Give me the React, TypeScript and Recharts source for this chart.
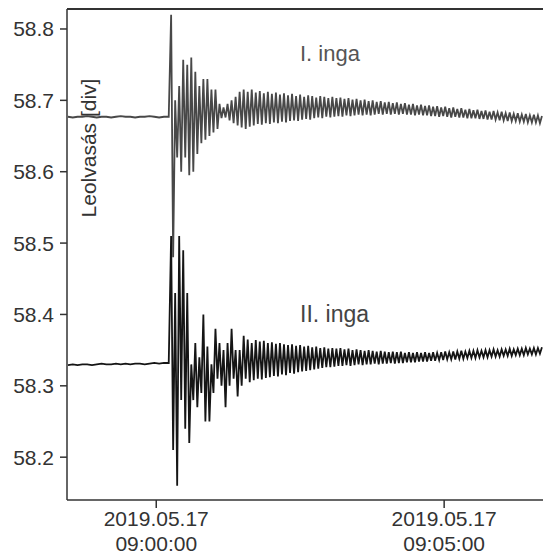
import React from 'react';
import { LineChart, Line, XAxis, YAxis, ReferenceLine, Customized } from 'recharts';

// seconds relative to 2019.05.17 09:00:00
const xDomain = [-93, 403];
const yDomain = [58.14, 58.828];
const yTicks = [58.2, 58.3, 58.4, 58.5, 58.6, 58.7, 58.8];
const xTicks = [0, 300];
const xTickDate = '2019.05.17';
const xTickTimes = ['09:00:00', '09:05:00'];

// quiet part before the quake, sampled every 5 s from -92 s
const quietStart = -92;
const quietStep = 5;
const quietI = [
  58.677, 58.676, 58.677, 58.677, 58.678, 58.677, 58.676, 58.677, 58.677, 58.676, 58.677,
  58.678, 58.677, 58.677, 58.676, 58.677, 58.677, 58.678, 58.677, 58.676, 58.677, 58.677,
];
const quietII = [
  58.329, 58.33, 58.329, 58.33, 58.33, 58.329, 58.33, 58.331, 58.33, 58.33, 58.331,
  58.33, 58.331, 58.33, 58.331, 58.331, 58.33, 58.331, 58.332, 58.331, 58.332, 58.332,
];

// swinging part, one value per half swing (2.1 s) from 15.5 s
const swingStart = 15.5;
const swingStep = 2.1;
const swingI = [
  58.82, 58.48, 58.70, 58.62, 58.72, 58.60, 58.757, 58.62, 58.75, 58.595,
  58.76, 58.60, 58.74, 58.625, 58.72, 58.64, 58.73, 58.645, 58.73, 58.65,
  58.715, 58.655, 58.715, 58.66, 58.695, 58.675, 58.69, 58.676, 58.695, 58.672,
  58.70, 58.668, 58.705, 58.665, 58.712, 58.662, 58.715, 58.66, 58.712, 58.663,
  58.715, 58.665, 58.711, 58.667, 58.713, 58.666, 58.710, 58.668, 58.712, 58.667,
  58.709, 58.669, 58.711, 58.668, 58.708, 58.670, 58.710, 58.669, 58.707, 58.671,
  58.709, 58.672, 58.706, 58.671, 58.708, 58.673, 58.705, 58.674, 58.707, 58.673,
  58.706, 58.675, 58.704, 58.676, 58.706, 58.675, 58.705, 58.677, 58.703, 58.676,
  58.705, 58.677, 58.703, 58.678, 58.704, 58.677, 58.702, 58.679, 58.703, 58.678,
  58.701, 58.679, 58.702, 58.680, 58.700, 58.679, 58.701, 58.680, 58.699, 58.679,
  58.700, 58.680, 58.698, 58.681, 58.699, 58.680, 58.697, 58.681, 58.698, 58.680,
  58.696, 58.681, 58.697, 58.680, 58.695, 58.681, 58.696, 58.680, 58.694, 58.680,
  58.695, 58.679, 58.693, 58.680, 58.694, 58.679, 58.692, 58.679, 58.693, 58.678,
  58.691, 58.678, 58.692, 58.677, 58.690, 58.678, 58.691, 58.677, 58.689, 58.676,
  58.690, 58.677, 58.688, 58.676, 58.689, 58.676, 58.687, 58.675, 58.688, 58.675,
  58.686, 58.675, 58.687, 58.674, 58.685, 58.674, 58.686, 58.673, 58.684, 58.673,
  58.685, 58.673, 58.683, 58.672, 58.684, 58.672, 58.682, 58.671, 58.683, 58.671,
  58.681, 58.671, 58.682, 58.670, 58.680, 58.670, 58.681, 58.669, 58.679, 58.669,
  58.680, 58.669, 58.679, 58.668, 58.678,
];
const swingII = [
  58.51, 58.21, 58.43, 58.16, 58.51, 58.28, 58.49, 58.24, 58.43, 58.22,
  58.33, 58.28, 58.36, 58.27, 58.34, 58.29, 58.40, 58.25, 58.355, 58.25,
  58.33, 58.29, 58.38, 58.31, 58.36, 58.30, 58.35, 58.27, 58.36, 58.30,
  58.38, 58.31, 58.35, 58.285, 58.35, 58.30, 58.37, 58.31, 58.365, 58.305,
  58.36, 58.308, 58.364, 58.310, 58.362, 58.309, 58.363, 58.311, 58.360, 58.312,
  58.361, 58.314, 58.359, 58.313, 58.360, 58.316, 58.358, 58.315, 58.357, 58.318,
  58.358, 58.317, 58.356, 58.319, 58.357, 58.320, 58.355, 58.321, 58.356, 58.322,
  58.354, 58.323, 58.355, 58.324, 58.353, 58.325, 58.354, 58.326, 58.352, 58.326,
  58.353, 58.327, 58.352, 58.328, 58.353, 58.328, 58.351, 58.329, 58.352, 58.328,
  58.350, 58.329, 58.351, 58.330, 58.350, 58.329, 58.349, 58.330, 58.350, 58.330,
  58.349, 58.331, 58.348, 58.330, 58.349, 58.331, 58.348, 58.331, 58.347, 58.332,
  58.348, 58.331, 58.347, 58.332, 58.348, 58.332, 58.346, 58.333, 58.347, 58.333,
  58.346, 58.333, 58.347, 58.334, 58.346, 58.334, 58.347, 58.334, 58.346, 58.335,
  58.347, 58.335, 58.346, 58.336, 58.347, 58.336, 58.348, 58.337, 58.347, 58.337,
  58.348, 58.337, 58.348, 58.338, 58.349, 58.338, 58.348, 58.339, 58.349, 58.339,
  58.349, 58.339, 58.350, 58.340, 58.349, 58.340, 58.350, 58.340, 58.350, 58.341,
  58.351, 58.341, 58.350, 58.341, 58.351, 58.342, 58.351, 58.342, 58.352, 58.342,
  58.351, 58.343, 58.352, 58.343, 58.352, 58.343, 58.353, 58.344, 58.352, 58.344,
  58.353, 58.344, 58.353, 58.345, 58.354,
];

const rows = [
  ...quietI.map((v, i) => ({ t: quietStart + i * quietStep, a: v, b: quietII[i] })),
  ...swingI.map((v, i) => ({ t: swingStart + i * swingStep, a: v, b: swingII[i] })),
];

const font = '"Liberation Sans", Arial, sans-serif';

const TimeTick = (props: any) => {
  const { x, y, payload } = props;
  const i = xTicks.indexOf(payload.value);
  return (
    <text x={x} y={y} textAnchor="middle" fill="#333" fontSize={21} fontFamily={font}>
      <tspan x={x} dy={16}>{xTickDate}</tspan>
      <tspan x={x} dy={25}>{xTickTimes[i]}</tspan>
    </text>
  );
};

const Notes = () => (
  <g fontFamily={font}>
    <text x={300} y={61} fontSize={22} fill="#555">I. inga</text>
    <text x={300} y={322} fontSize={23} fill="#444">II. inga</text>
    <text
      x={88}
      y={148}
      fontSize={21}
      fill="#333"
      textAnchor="middle"
      dominantBaseline="central"
      transform="rotate(-90 88 148)"
    >
      Leolvasás [div]
    </text>
  </g>
);

export default function App() {
  return (
    <div style={{ position: 'absolute', left: 0, top: 0, width: 543, height: 555, background: '#fff' }}>
      <LineChart width={543} height={555} data={rows} margin={{ top: 9, right: 0, bottom: 0, left: 7 }}>
        <XAxis
          dataKey="t"
          type="number"
          domain={xDomain}
          ticks={xTicks}
          allowDataOverflow
          height={55}
          tickSize={8}
          tick={<TimeTick />}
          axisLine={{ stroke: '#333', strokeWidth: 1.5 }}
          tickLine={{ stroke: '#333', strokeWidth: 1.5 }}
        />
        <YAxis
          type="number"
          domain={yDomain}
          ticks={yTicks}
          allowDataOverflow
          width={60}
          tickSize={7}
          tickMargin={6}
          tickFormatter={(v: number) => v.toFixed(1)}
          tick={{ fill: '#333', fontSize: 21, fontFamily: font }}
          axisLine={{ stroke: '#333', strokeWidth: 1.5 }}
          tickLine={{ stroke: '#333', strokeWidth: 1.5 }}
        />
        <ReferenceLine y={yDomain[1]} stroke="#333" strokeWidth={2} />
        <Line dataKey="a" stroke="#484848" strokeWidth={1.8} dot={false} isAnimationActive={false} />
        <Line dataKey="b" stroke="#151515" strokeWidth={1.8} dot={false} isAnimationActive={false} />
        <Customized component={Notes} />
      </LineChart>
    </div>
  );
}
